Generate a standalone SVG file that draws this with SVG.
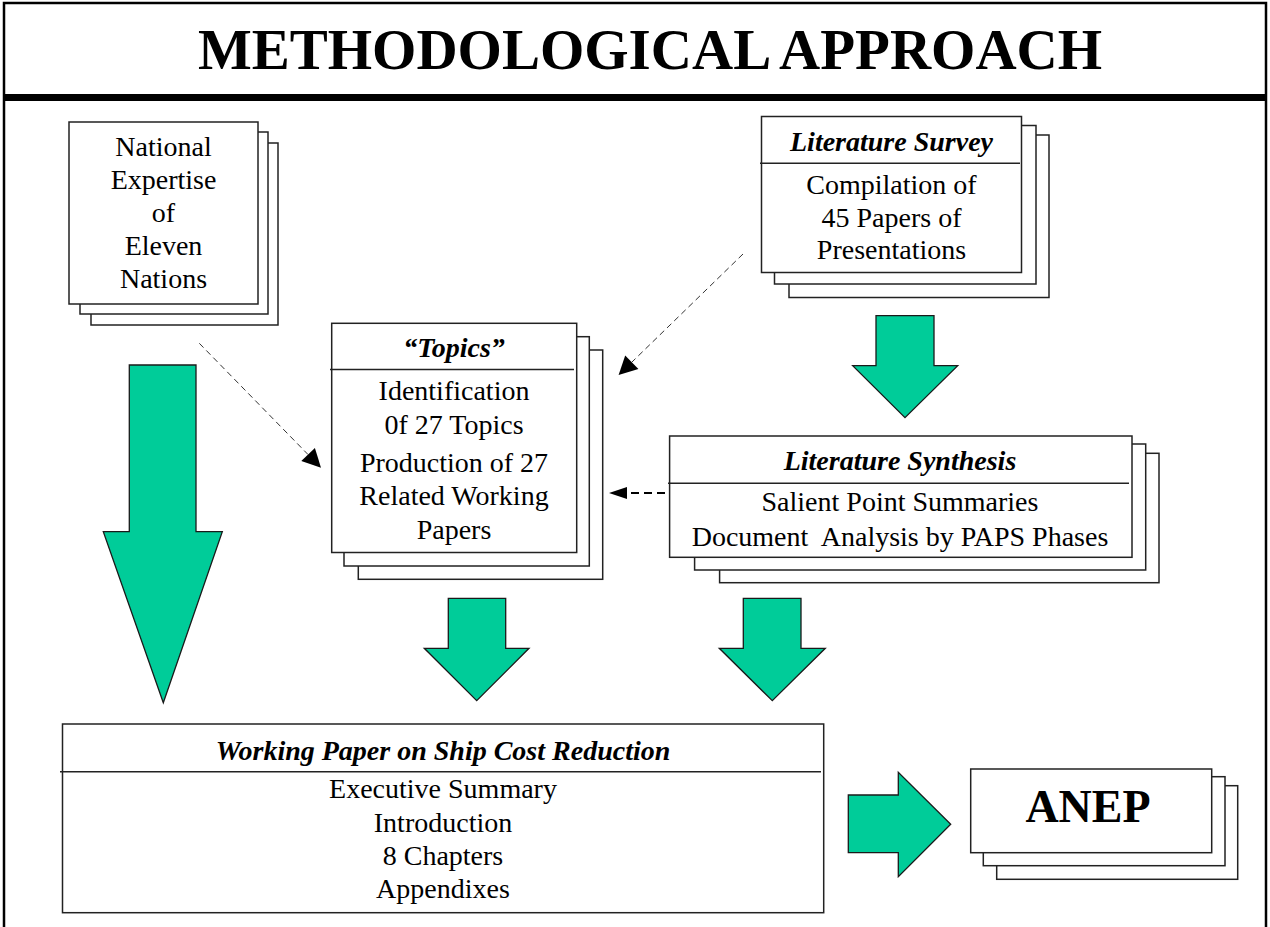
<svg xmlns="http://www.w3.org/2000/svg" width="1270" height="927" viewBox="0 0 1270 927">
<defs>
<style>
.bg{fill:#fff}
.box{fill:#fff;stroke:#222;stroke-width:1.5}
.hl{stroke:#222;stroke-width:1.5;fill:none}
.t{font-family:"Liberation Serif","Times New Roman",serif;font-size:28px;fill:#000;text-anchor:middle}
.h{font-family:"Liberation Serif","Times New Roman",serif;font-size:28px;font-weight:bold;font-style:italic;fill:#000;text-anchor:middle}
.green{fill:#00CC99;stroke:#1a1a1a;stroke-width:1.3;stroke-linejoin:miter}
.thin{stroke:#333;stroke-width:1;stroke-dasharray:6 4;fill:none}
.thick{stroke:#000;stroke-width:2;stroke-dasharray:8 5;fill:none}
.head{fill:#000}
</style>
</defs>
<rect class="bg" x="0" y="0" width="1270" height="927"/>
<g id="frame">
<polyline points="4,927 4,3 1266,3 1266,927" fill="none" stroke="#000" stroke-width="2.5"/>
<rect x="4" y="94" width="1262" height="7" fill="#000"/>
<text x="650" y="69" text-anchor="middle" style="font-family:'Liberation Serif','Times New Roman',serif;font-size:57px;font-weight:bold">METHODOLOGICAL APPROACH</text>
</g>
<g id="national-expertise">
<rect class="box" x="91" y="143" width="187" height="182"/>
<rect class="box" x="80" y="132" width="188" height="182"/>
<rect class="box" x="69" y="122" width="189" height="182"/>
<text class="t" x="163.5" y="156">National</text>
<text class="t" x="163.5" y="189">Expertise</text>
<text class="t" x="163.5" y="222">of</text>
<text class="t" x="163.5" y="255">Eleven</text>
<text class="t" x="163.5" y="288">Nations</text>
</g>
<g id="literature-survey">
<rect class="box" x="789" y="135" width="260" height="162.5"/>
<rect class="box" x="774.5" y="125.5" width="261.5" height="158.5"/>
<rect class="box" x="761.5" y="116.5" width="260" height="156"/>
<line class="hl" x1="760" y1="163.3" x2="1020" y2="163.3"/>
<text class="h" x="891.5" y="151">Literature Survey</text>
<text class="t" x="891.5" y="193.5">Compilation of</text>
<text class="t" x="891.5" y="226.5">45 Papers of</text>
<text class="t" x="891.5" y="258.5">Presentations</text>
</g>
<g id="topics">
<rect class="box" x="358.3" y="350" width="244.4" height="229.3"/>
<rect class="box" x="344" y="336.7" width="245.3" height="229.3"/>
<rect class="box" x="331.7" y="323.3" width="245" height="229.2"/>
<line class="hl" x1="330" y1="369.5" x2="574" y2="369.5"/>
<text class="h" x="454" y="357">“Topics”</text>
<text class="t" x="454" y="399.5">Identification</text>
<text class="t" x="454" y="433.5">0f 27 Topics</text>
<text class="t" x="454" y="471.5">Production of 27</text>
<text class="t" x="454" y="505">Related Working</text>
<text class="t" x="454" y="538.5">Papers</text>
</g>
<g id="literature-synthesis">
<rect class="box" x="719.6" y="453.3" width="439.4" height="129.4"/>
<rect class="box" x="694.6" y="444" width="451.1" height="126"/>
<rect class="box" x="669.6" y="436" width="462.4" height="121.3"/>
<line class="hl" x1="668" y1="483.3" x2="1129" y2="483.3"/>
<text class="h" x="900" y="470">Literature Synthesis</text>
<text class="t" x="900" y="510.7">Salient Point Summaries</text>
<text class="t" x="900" y="546" xml:space="preserve" style="white-space:pre">Document  Analysis by PAPS Phases</text>
</g>
<g id="working-paper">
<rect class="box" x="62.5" y="724" width="761.2" height="188.7"/>
<line class="hl" x1="60" y1="771.7" x2="821" y2="771.7"/>
<text class="h" x="443" y="760">Working Paper on Ship Cost Reduction</text>
<text class="t" x="443" y="798.3">Executive Summary</text>
<text class="t" x="443" y="831.7">Introduction</text>
<text class="t" x="443" y="865">8 Chapters</text>
<text class="t" x="443" y="898.3">Appendixes</text>
</g>
<g id="anep">
<rect class="box" x="996.7" y="785.7" width="241" height="93.6"/>
<rect class="box" x="983.3" y="776.7" width="241.7" height="89"/>
<rect class="box" x="970.7" y="769" width="241" height="83.7"/>
<text x="1088" y="822" text-anchor="middle" style="font-family:'Liberation Serif','Times New Roman',serif;font-size:46px;font-weight:bold">ANEP</text>
</g>
<g id="connectors">
<polygon class="green" points="129.3,365 196,365 196,531.7 222.3,531.7 163.3,702.7 103.3,531.7 129.3,531.7"/>
<polygon class="green" points="448.3,598.3 505.7,598.3 505.7,648.3 529,648.3 476.7,700.7 424.3,648.3 448.3,648.3"/>
<polygon class="green" points="743.3,598.3 801,598.3 801,648.3 825.3,648.3 772.3,700.7 719.3,648.3 743.3,648.3"/>
<polygon class="green" points="876,315.7 934,315.7 934,365.7 957.7,365.7 905,417.7 852.7,365.7 876,365.7"/>
<polygon class="green" points="848.3,795 898.3,795 898.3,772.3 950.7,824.3 898.3,876.7 898.3,852.7 848.3,852.7"/>
<line class="thin" x1="199.3" y1="343.3" x2="308" y2="454.5"/>
<polygon class="head" points="321,467.7 301.3,461.1 314.9,447.9"/>
<line class="thin" x1="743" y1="254" x2="631.8" y2="362.2"/>
<polygon class="head" points="618.6,375 625.2,355.4 638.4,369"/>
<line class="thick" x1="665" y1="493" x2="627" y2="493"/>
<polygon class="head" points="609,493 627,487 627,499"/>
</g>
</svg>
